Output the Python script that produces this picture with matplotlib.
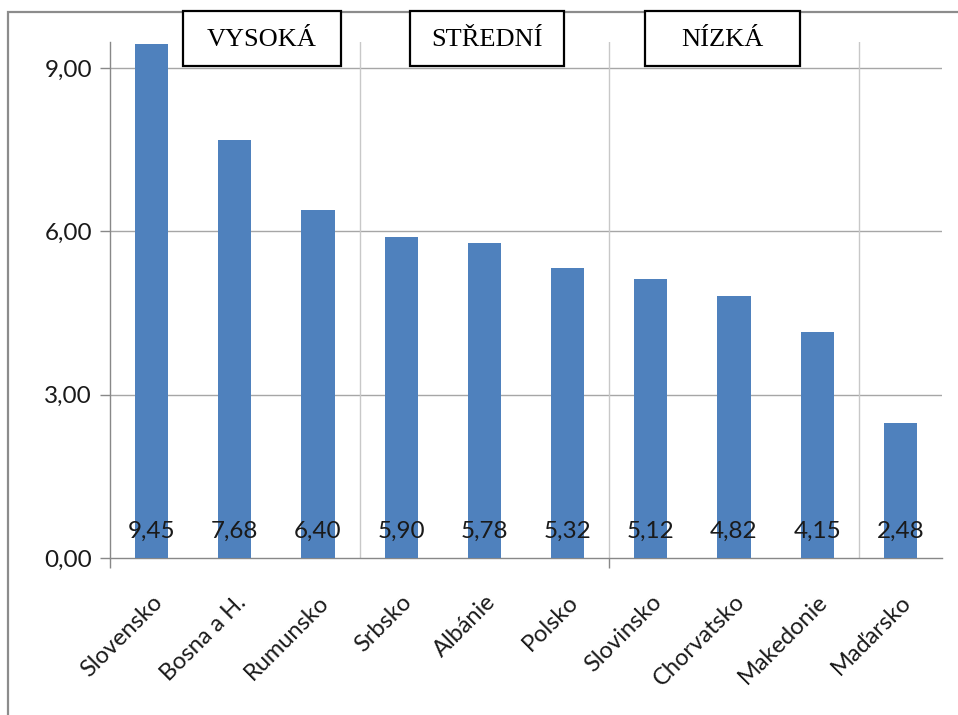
import numpy as np
import matplotlib.pyplot as plt
from matplotlib.patches import Rectangle

countries = ['Slovensko', 'Bosna a H.', 'Rumunsko', 'Srbsko', 'Albánie', 'Polsko',
             'Slovinsko', 'Chorvatsko', 'Makedonie', 'Maďarsko']
values = [9.45, 7.68, 6.40, 5.90, 5.78, 5.32, 5.12, 4.82, 4.15, 2.48]
y_ticks = [0, 3, 6, 9]
group_names = ['VYSOKÁ', 'STŘEDNÍ', 'NÍZKÁ']
group_bounds = [2.5, 5.5, 8.5]


def cz(v):
    """Number with decimal comma, two places."""
    return f'{v:.2f}'.replace('.', ',')


plt.rcParams['font.family'] = ['Lato', 'DejaVu Sans']
fs = 17.5

W, H = 958, 715
fig = plt.figure(figsize=(W / 100, H / 100), dpi=100)
ax = fig.add_axes([110 / W, 1 - 558 / H, (942 - 110) / W, (558 - 42) / H])

x = np.arange(len(countries))
ax.bar(x, values, width=0.4, color='#4F81BD', zorder=3)
for xi, v in zip(x, values):
    ax.annotate(cz(v), (xi, 0), xytext=(0, 19), textcoords='offset points',
                ha='center', va='center', fontsize=fs, color='#1a1a1a', zorder=4)

ax.set_xlim(-0.5, len(countries) - 0.5)
ax.set_ylim(0, 9.48)

ax.set_yticks(y_ticks)
ax.set_yticklabels([cz(t) for t in y_ticks], fontsize=fs, color='#1a1a1a')
ax.tick_params(axis='y', length=7, color='#888888', width=1, pad=6)
for t in y_ticks[1:]:
    ax.axhline(t, color='#a6a6a6', lw=1.0, zorder=1)
for b in group_bounds:
    ax.axvline(b, color='#c8c8c8', lw=1.0, zorder=1)

ax.set_xticks([-0.5, 5.5], minor=False)
ax.set_xticklabels(['', ''])
ax.tick_params(axis='x', which='major', length=7, color='#888888', width=1)
ax.set_xticks(x, minor=True)
ax.set_xticklabels(countries, minor=True, rotation=45, ha='right',
                   rotation_mode='anchor', fontsize=17, color='#1a1a1a')
ax.tick_params(axis='x', which='minor', length=0, pad=24)

for side in ['top', 'right']:
    ax.spines[side].set_visible(False)
for side in ['left', 'bottom']:
    ax.spines[side].set_color('#888888')
    ax.spines[side].set_linewidth(1.0)

# group boxes above the plot
boxes = [(183, 341), (410, 564), (645, 800)]
for name, (x0, x1) in zip(group_names, boxes):
    fig.add_artist(Rectangle((x0 / W, 1 - 66 / H), (x1 - x0) / W, 55 / H,
                             transform=fig.transFigure, facecolor='white',
                             edgecolor='black', lw=1.6, zorder=5))
    fig.text((x0 + x1) / 2 / W, 1 - 40 / H, name, ha='center', va='center',
             fontsize=19, family='Liberation Serif', zorder=6)

# outer frame
fig.add_artist(Rectangle((8 / W, -0.05), 1.1, 1.05 - 12 / H, transform=fig.transFigure,
                         fill=False, edgecolor='#8c8c8c', lw=1.6))

fig.savefig('out.png', dpi=100)
